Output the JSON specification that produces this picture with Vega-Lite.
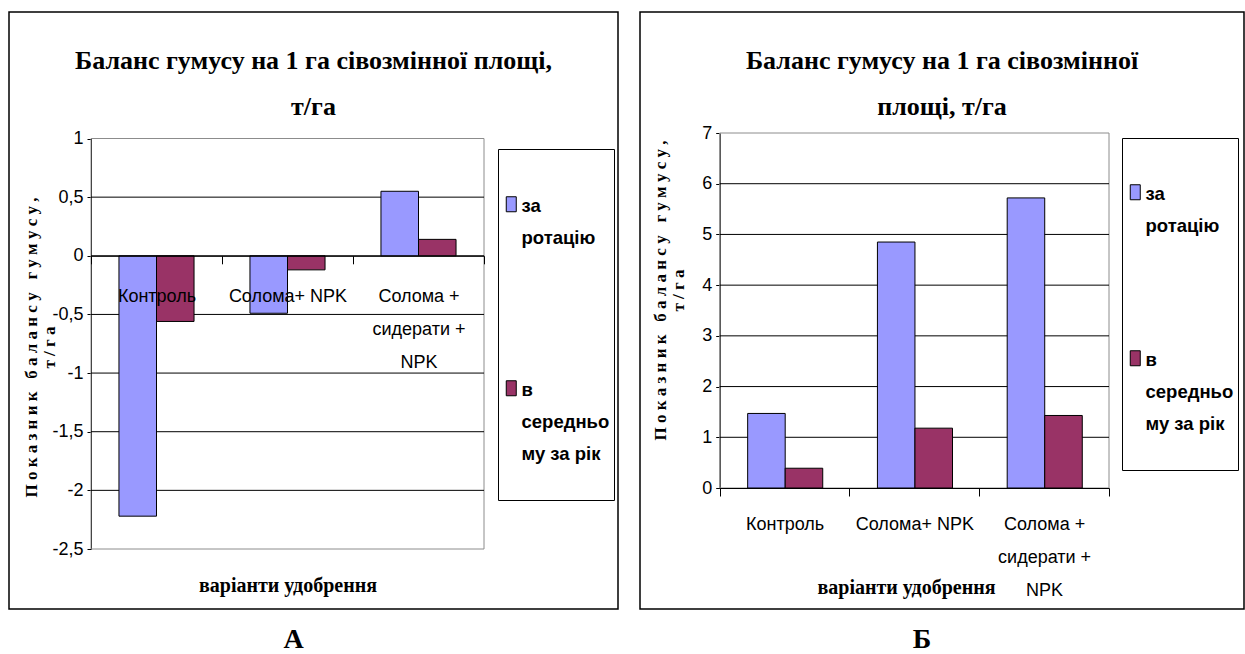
{
  "$schema": "https://vega.github.io/schema/vega-lite/v6.json",
  "background": "white",
  "padding": {"left": 8, "top": 11, "right": 0, "bottom": 0},
  "config": {
    "view": {"stroke": "#000000", "strokeWidth": 1.5},
    "font": "Liberation Sans",
    "concat": {"spacing": 20},
    "axis": {"domainColor": "#000000", "tickColor": "#000000", "labelColor": "#000000", "titleColor": "#000000", "grid": false, "domainWidth": 1, "tickWidth": 1, "labelOverlap": false}
  },
  "datasets": {
    "a": [
      {"variant": "Контроль", "series": "за ротацію", "value": -2.22},
      {"variant": "Контроль", "series": "в середньому за рік", "value": -0.56},
      {"variant": "Солома+ NPK", "series": "за ротацію", "value": -0.49},
      {"variant": "Солома+ NPK", "series": "в середньому за рік", "value": -0.12},
      {"variant": "Солома + сидерати + NPK", "series": "за ротацію", "value": 0.55},
      {"variant": "Солома + сидерати + NPK", "series": "в середньому за рік", "value": 0.14}
    ],
    "b": [
      {"variant": "Контроль", "series": "за ротацію", "value": 1.47},
      {"variant": "Контроль", "series": "в середньому за рік", "value": 0.39},
      {"variant": "Солома+ NPK", "series": "за ротацію", "value": 4.85},
      {"variant": "Солома+ NPK", "series": "в середньому за рік", "value": 1.18},
      {"variant": "Солома + сидерати + NPK", "series": "за ротацію", "value": 5.72},
      {"variant": "Солома + сидерати + NPK", "series": "в середньому за рік", "value": 1.43}
    ],
    "gridA": [{"v": 0.5}, {"v": 0}, {"v": -0.5}, {"v": -1}, {"v": -1.5}, {"v": -2}],
    "gridB": [{"v": 1}, {"v": 2}, {"v": 3}, {"v": 4}, {"v": 5}, {"v": 6}]
  },
  "resolve": {"scale": {"color": "independent"}, "legend": {"color": "independent"}},
  "hconcat": [
    {
      "title": {"text": "А", "orient": "bottom", "anchor": "middle", "font": "Liberation Serif", "fontSize": 28, "fontWeight": "bold", "color": "#000000", "offset": 16, "dx": -20, "baseline": "top"},
      "vconcat": [
        {
          "width": 609,
          "height": 597,
          "title": {"text": ["Баланс гумусу на 1 га сівозмінної площі,", "т/га"], "font": "Liberation Serif", "fontSize": 26, "fontWeight": "bold", "lineHeight": 46, "color": "#000000", "anchor": "middle", "frame": "group", "dy": 112},
          "resolve": {"scale": {"x": "independent"}},
          "layer": [
            {
              "data": {"values": [{"f": 1}]},
              "mark": {"type": "rect", "fillOpacity": 0, "stroke": "#8c8c8c", "strokeWidth": 1},
              "encoding": {
                "x": {"datum": 0, "type": "quantitative", "scale": {"domain": [0, 1], "range": [82, 475]}, "axis": null},
                "x2": {"datum": 1},
                "y": {"datum": 1, "type": "quantitative"},
                "y2": {"datum": -2.5}
              }
            },
            {
              "data": {"name": "gridA"},
              "mark": {"type": "rule", "color": "#000000", "strokeWidth": 1},
              "encoding": {
                "x": {"datum": 0, "type": "quantitative", "scale": {"domain": [0, 1], "range": [82, 475]}, "axis": null},
                "x2": {"datum": 1},
                "y": {"field": "v", "type": "quantitative"}
              }
            },
            {
              "data": {"name": "a"},
              "mark": {"type": "bar", "stroke": "#000000", "strokeWidth": 1},
              "encoding": {
                "x": {"field": "variant", "type": "nominal", "sort": null,
                  "scale": {"range": [82, 475], "paddingInner": 0, "paddingOuter": 0},
                  "axis": {"orient": "bottom", "offset": -353.2, "zindex": 1, "title": "варіанти удобрення", "titleFont": "Liberation Serif", "titleFontWeight": "bold", "titleFontSize": 20, "titleY": 330, "titleBaseline": "middle", "labelAngle": 0, "labelFont": "Liberation Sans", "labelFontSize": 18, "labelLineHeight": 33, "labelPadding": 24, "tickSize": 8, "tickBand": "extent", "labelLimit": 0, "labelExpr": "datum.value == 'Солома + сидерати + NPK' ? ['Солома  +', 'сидерати +', 'NPK'] : datum.label"}},
                "xOffset": {"field": "series", "type": "nominal", "sort": null, "scale": {"paddingInner": 0, "paddingOuter": 0.745}},
                "y": {"field": "value", "type": "quantitative",
                  "scale": {"domain": [-2.5, 1], "range": [537, 126.5], "nice": false, "zero": false},
                  "axis": {"offset": -82, "values": [1, 0.5, 0, -0.5, -1, -1.5, -2, -2.5], "labelExpr": "replace(toString(datum.value), '.', ',')", "labelFont": "Liberation Sans", "labelFontSize": 18, "tickSize": 4, "labelPadding": 4, "title": ["П о к а з н и к \u00a0 б а л а н с у \u00a0 г у м у с у ,", "т / г а"], "titleFont": "Liberation Serif", "titleFontWeight": "bold", "titleFontSize": 17, "titleLineHeight": 18, "titleX": -60, "titleY": 335, "titleBaseline": "middle"}},
                "color": {"field": "series", "type": "nominal",
                  "scale": {"domain": ["за ротацію", "в середньому за рік"], "range": ["#9999FF", "#993366"]},
                  "legend": {"orient": "none", "legendX": 489, "legendY": 137, "direction": "vertical", "title": " ", "titleFontSize": 20, "titlePadding": 22, "padding": 4, "strokeColor": "#000000", "fillColor": "#ffffff", "symbolType": "M-1,-1.5H1V1.5H-1Z", "symbolSize": 100, "symbolStrokeColor": "#000000", "symbolStrokeWidth": 1, "symbolOpacity": 1, "labelFont": "Liberation Sans", "labelFontWeight": "bold", "labelFontSize": 18.5, "labelBaseline": "top", "labelOffset": 1, "labelLimit": 0, "labelColor": "#000000", "rowPadding": 130, "labelExpr": "datum.value == 'за ротацію' ? ['за', 'ротацію'] : ['в', 'середньо', 'му за рік', '']",
                    "encode": {"labels": {"update": {"lineHeight": {"value": 32}, "dy": {"value": -7}}}}}}
              }
            }
          ]
        }
      ]
    },
    {
      "title": {"text": "Б", "orient": "bottom", "anchor": "middle", "font": "Liberation Serif", "fontSize": 28, "fontWeight": "bold", "color": "#000000", "offset": 16, "dx": -20, "baseline": "top"},
      "vconcat": [
        {
          "width": 604,
          "height": 597,
          "title": {"text": ["Баланс гумусу на 1 га сівозмінної", "площі, т/га"], "font": "Liberation Serif", "fontSize": 26, "fontWeight": "bold", "lineHeight": 46, "color": "#000000", "anchor": "middle", "frame": "group", "dy": 112},
          "resolve": {"scale": {"x": "independent"}},
          "layer": [
            {
              "data": {"values": [{"f": 1}]},
              "mark": {"type": "rect", "fillOpacity": 0, "stroke": "#8c8c8c", "strokeWidth": 1},
              "encoding": {
                "x": {"datum": 0, "type": "quantitative", "scale": {"domain": [0, 1], "range": [79.7, 469]}, "axis": null},
                "x2": {"datum": 1},
                "y": {"datum": 7, "type": "quantitative"},
                "y2": {"datum": 0}
              }
            },
            {
              "data": {"name": "gridB"},
              "mark": {"type": "rule", "color": "#000000", "strokeWidth": 1},
              "encoding": {
                "x": {"datum": 0, "type": "quantitative", "scale": {"domain": [0, 1], "range": [79.7, 469]}, "axis": null},
                "x2": {"datum": 1},
                "y": {"field": "v", "type": "quantitative"}
              }
            },
            {
              "data": {"name": "b"},
              "mark": {"type": "bar", "stroke": "#000000", "strokeWidth": 1},
              "encoding": {
                "x": {"field": "variant", "type": "nominal", "sort": null,
                  "scale": {"range": [79.7, 469], "paddingInner": 0, "paddingOuter": 0},
                  "axis": {"orient": "bottom", "offset": -121, "zindex": 1, "title": "варіанти удобрення", "titleFont": "Liberation Serif", "titleFontWeight": "bold", "titleFontSize": 20, "titleY": 99, "titleX": 266, "titleBaseline": "middle", "labelAngle": 0, "labelFont": "Liberation Sans", "labelFontSize": 18, "labelLineHeight": 33, "labelPadding": 19, "tickSize": 8, "tickBand": "extent", "labelLimit": 0, "labelExpr": "datum.value == 'Солома + сидерати + NPK' ? ['Солома  +', 'сидерати +', 'NPK'] : datum.label"}},
                "xOffset": {"field": "series", "type": "nominal", "sort": null, "scale": {"paddingInner": 0, "paddingOuter": 0.745}},
                "y": {"field": "value", "type": "quantitative",
                  "scale": {"domain": [0, 7], "range": [476, 121], "nice": false, "zero": false},
                  "axis": {"offset": -79.7, "values": [0, 1, 2, 3, 4, 5, 6, 7], "labelExpr": "toString(datum.value)", "labelFont": "Liberation Sans", "labelFontSize": 18, "tickSize": 4, "labelPadding": 4, "title": ["П о к а з н и к \u00a0 б а л а н с у \u00a0 г у м у с у ,", "т / г а"], "titleFont": "Liberation Serif", "titleFontWeight": "bold", "titleFontSize": 17, "titleLineHeight": 18, "titleX": -59, "titleY": 278, "titleBaseline": "middle"}},
                "color": {"field": "series", "type": "nominal",
                  "scale": {"domain": ["за ротацію", "в середньому за рік"], "range": ["#9999FF", "#993366"]},
                  "legend": {"orient": "none", "legendX": 482, "legendY": 126, "direction": "vertical", "title": " ", "titleFontSize": 20, "titlePadding": 21, "padding": 4, "strokeColor": "#000000", "fillColor": "#ffffff", "symbolType": "M-1,-1.5H1V1.5H-1Z", "symbolSize": 100, "symbolStrokeColor": "#000000", "symbolStrokeWidth": 1, "symbolOpacity": 1, "labelFont": "Liberation Sans", "labelFontWeight": "bold", "labelFontSize": 18.5, "labelBaseline": "top", "labelOffset": 1, "labelLimit": 0, "labelColor": "#000000", "rowPadding": 112, "labelExpr": "datum.value == 'за ротацію' ? ['за', 'ротацію'] : ['в', 'середньо', 'му за рік', '']",
                    "encode": {"labels": {"update": {"lineHeight": {"value": 32}, "dy": {"value": -7}}}}}}
              }
            }
          ]
        }
      ]
    }
  ]
}
